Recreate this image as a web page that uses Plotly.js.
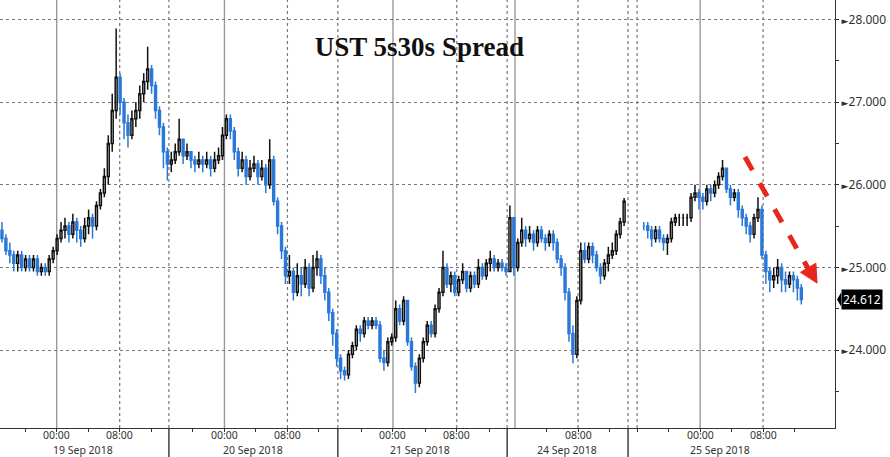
<!DOCTYPE html>
<html><head><meta charset="utf-8">
<script src="https://cdn.plot.ly/plotly-3.0.1.min.js"></script>
<style>html,body{margin:0;padding:0;background:#fff}#chart{width:890px;height:457px}</style>
</head><body><div id="chart"></div>
<script>
// x unit = one 30-minute bar slot on the (gap-compressed) intraday axis
const sessionNames = ["19 Sep 2018", "20 Sep 2018", "21 Sep 2018", "24 Sep 2018", "25 Sep 2018"];
const sessionStartSlot = [0, 43, 86, 129, 163];
const sessionFirstOpen = [25.45, 26.25, 23.9, 24.95, 25.5];

const sep19Close = [25.35,25.2,25.15,25.05,25.15,25.0,25.1,25.0,25.1,24.95,25.0,24.95,25.1,25.2,25.35,25.45,25.5,25.4,25.55,25.45,25.35,25.5,25.6,25.5,25.75,25.9,26.1,26.5,26.9,27.3,27.0,26.75,26.6,26.8,26.9,27.1,27.25,27.4,27.2,26.9,26.7,26.4,26.25];
const sep19High  = [25.55,25.4,25.3,25.2,25.2,25.2,25.15,25.15,25.15,25.15,25.05,25.05,25.15,25.25,25.4,25.55,25.6,25.55,25.65,25.6,25.5,25.6,25.7,25.65,25.8,25.95,26.2,26.6,27.1,27.89,27.35,27.05,26.85,26.9,27.0,27.2,27.35,27.67,27.45,27.25,26.95,26.75,26.45];
const sep19Low   = [25.3,25.15,25.05,24.95,24.95,24.95,24.95,24.95,24.95,24.9,24.9,24.9,24.9,25.05,25.15,25.3,25.35,25.3,25.35,25.3,25.25,25.3,25.4,25.35,25.45,25.7,25.85,26.0,26.4,26.8,26.85,26.55,26.45,26.55,26.7,26.8,27.0,27.15,27.1,26.8,26.6,26.2,26.05];

const sep20Close = [26.3,26.4,26.55,26.35,26.4,26.3,26.25,26.3,26.25,26.3,26.2,26.3,26.35,26.6,26.8,26.65,26.4,26.2,26.3,26.1,26.2,26.25,26.1,26.2,26.0,26.3,25.8,25.5,25.2,24.9,24.95,24.7,24.9,24.8,25.0,24.75,25.0,25.1,24.9,24.7,24.45,24.2,23.9];
const sep20High  = [26.4,26.5,26.8,26.55,26.5,26.4,26.35,26.4,26.35,26.4,26.35,26.4,26.45,26.7,26.85,26.85,26.7,26.45,26.4,26.35,26.3,26.35,26.3,26.3,26.25,26.55,26.35,25.85,25.55,25.25,25.15,25.0,25.05,25.0,25.1,25.05,25.15,25.2,25.15,25.0,24.75,24.5,24.25];
const sep20Low   = [26.15,26.25,26.35,26.25,26.3,26.2,26.15,26.2,26.15,26.2,26.1,26.15,26.25,26.3,26.55,26.55,26.3,26.1,26.15,26.0,26.05,26.15,26.0,26.05,25.9,25.95,25.75,25.4,25.1,24.8,24.8,24.6,24.65,24.65,24.75,24.65,24.7,24.9,24.8,24.6,24.35,24.05,23.8];

const sep21Close = [23.75,23.7,23.95,24.05,24.25,24.2,24.35,24.3,24.35,24.3,23.9,23.85,24.1,24.15,24.5,24.35,24.6,24.1,23.8,23.6,23.9,24.1,24.3,24.2,24.5,24.7,25.0,24.8,24.9,24.7,24.85,24.95,24.75,24.9,24.8,25.0,24.9,25.05,25.1,25.0,25.05,25.0,24.95];
const sep21High  = [23.95,23.8,24.0,24.1,24.3,24.3,24.4,24.4,24.4,24.4,24.35,24.0,24.15,24.2,24.6,24.55,24.65,24.6,24.15,23.85,23.95,24.15,24.35,24.35,24.55,24.75,25.2,25.05,24.95,24.95,24.9,25.05,24.95,24.95,24.95,25.1,25.05,25.1,25.2,25.15,25.1,25.1,25.05];
const sep21Low   = [23.65,23.63,23.65,23.9,24.0,24.1,24.15,24.25,24.25,24.25,23.85,23.75,23.8,24.05,24.1,24.3,24.3,24.05,23.75,23.48,23.55,23.85,24.05,24.15,24.15,24.45,24.65,24.75,24.7,24.65,24.65,24.8,24.7,24.7,24.75,24.75,24.85,24.85,24.95,24.95,24.95,24.95,24.9];

const sep24Close = [25.6,25.0,25.3,25.45,25.35,25.4,25.3,25.45,25.35,25.3,25.4,25.3,25.1,25.0,24.7,24.2,23.95,24.6,25.2,25.1,25.25,25.15,25.0,24.9,25.05,25.15,25.2,25.4,25.55,25.8];
const sep24High  = [25.75,25.6,25.35,25.6,25.5,25.5,25.45,25.5,25.5,25.4,25.45,25.45,25.35,25.15,25.05,24.75,24.3,24.65,25.3,25.3,25.3,25.3,25.2,25.05,25.1,25.25,25.3,25.45,25.6,25.84];
const sep24Low   = [24.95,24.9,24.95,25.25,25.25,25.3,25.2,25.25,25.3,25.2,25.25,25.2,25.05,24.9,24.6,24.1,23.84,23.9,24.55,25.05,25.05,25.05,24.95,24.8,24.85,24.95,25.1,25.15,25.35,25.5];

const sep25Close = [25.5,25.45,25.35,25.45,25.35,25.3,25.35,25.55,25.6,25.6,25.6,25.6,25.85,25.9,25.85,25.8,25.95,25.9,26.0,26.1,26.2,25.95,25.85,25.9,25.7,25.6,25.5,25.4,25.6,25.7,25.15,24.95,24.85,24.9,25.0,24.85,24.8,24.9,24.85,24.75,24.612];
const sep25High  = [25.55,25.55,25.5,25.5,25.5,25.4,25.4,25.6,25.65,25.65,25.65,25.65,25.9,26.0,25.95,25.9,26.0,26.0,26.05,26.15,26.3,26.2,26.0,25.95,25.95,25.75,25.65,25.55,25.65,25.85,25.75,25.2,25.0,25.0,25.1,25.05,24.95,24.95,24.95,24.9,24.8];
const sep25Low   = [25.45,25.35,25.25,25.3,25.3,25.2,25.15,25.3,25.5,25.5,25.5,25.5,25.55,25.8,25.7,25.7,25.75,25.8,25.85,25.95,26.05,25.9,25.75,25.8,25.6,25.5,25.4,25.3,25.35,25.55,25.1,24.8,24.7,24.75,24.8,24.7,24.7,24.75,24.7,24.6,24.55];

// axis furniture (slot units)
const midnightSlots = [14.4, 57, 99.8, 130.8, 177.8];
const eightSlots = [30.4, 73, 116, 146.8, 193.8];
const timeTickSlots = [14.4, 30.4, 57, 73, 99.8, 116, 146.8, 177.8, 193.8];
const timeTickText  = ["00:00","08:00","00:00","08:00","00:00","08:00","08:00","00:00","08:00"];
const minorTimeSlots = [6.4, 22.4, 38.4, 49, 65, 81, 91.8, 108, 124.2, 138.8, 154.8, 161.8, 169.8, 185.8, 201.8];
const sessionBreakSlots = [42.9, 85.8, 128.8, 159.5];
const extraDottedSlots = [161.8];
const dayLabelSlots = [21.1, 64.3, 106.7, 144, 182.9];
const yTickVals = [24, 25, 26, 27, 28];
const yMinorVals = [23.5, 24.5, 25.5, 26.5, 27.5];

const closes = [sep19Close, sep20Close, sep21Close, sep24Close, sep25Close];
const highs  = [sep19High, sep20High, sep21High, sep24High, sep25High];
const lows   = [sep19Low, sep20Low, sep21Low, sep24Low, sep25Low];

const X = [], O = [], H = [], L = [], C = [];
closes.forEach((cs, s) => {
  cs.forEach((c, i) => {
    X.push(sessionStartSlot[s] + i + 0.5);
    O.push(i === 0 ? sessionFirstOpen[s] : cs[i - 1]);
    H.push(highs[s][i]); L.push(lows[s][i]); C.push(c);
  });
});
const lastValue = C[C.length - 1];

const trace = {
  type: 'candlestick', x: X, open: O, high: H, low: L, close: C,
  increasing: {line: {color: '#111111', width: 1.5}, fillcolor: 'rgba(255,255,255,0)'},
  decreasing: {line: {color: '#2a78d8', width: 1.5}, fillcolor: '#2a78d8'},
  whiskerwidth: 0, hoverinfo: 'skip', showlegend: false
};

const shapes = [];
midnightSlots.forEach(v => shapes.push({type:'line', xref:'x', yref:'paper', x0:v, x1:v, y0:0, y1:1, layer:'below', line:{color:'#9a9a9a', width:1.4}}));
eightSlots.concat(sessionBreakSlots, extraDottedSlots).forEach(v => shapes.push({type:'line', xref:'x', yref:'paper', x0:v, x1:v, y0:0, y1:1, layer:'below', line:{color:'#777', width:1.2, dash:'dot'}}));
sessionBreakSlots.forEach(v => shapes.push({type:'line', xref:'x', yref:'paper', x0:v, x1:v, y0:-0.07, y1:0, layer:'above', line:{color:'#333', width:1.4}}));

// red dashed trend arrow (annotation)
const arrow = {x0: 189.2, y0: 26.335, x1: 205.2, y1: 24.99, tipX: 207.5, tipY: 24.81, c1x: 207.2, c1y: 25.05, c2x: 203.3, c2y: 24.94};
shapes.push({type:'line', xref:'x', yref:'y', x0:arrow.x0, y0:arrow.y0, x1:arrow.x1, y1:arrow.y1, layer:'above', line:{color:'#e8261c', width:5, dash:'dash'}});
shapes.push({type:'path', xref:'x', yref:'y', layer:'above', fillcolor:'#e8261c', line:{color:'#e8261c', width:1},
  path:`M ${arrow.tipX},${arrow.tipY} L ${arrow.c1x},${arrow.c1y} L ${arrow.c2x},${arrow.c2y} Z`});
// pointer of last-value tag
shapes.push({type:'path', xref:'paper', yref:'y', layer:'above', fillcolor:'#000', line:{color:'#000', width:0},
  path:`M 1.0024,${lastValue} L 1.0075,${lastValue + 0.088} L 1.0075,${lastValue - 0.088} Z`});

const labelFont = {family: 'Noto Sans, DejaVu Sans, sans-serif', size: 10.5, color: '#333'};
const annotations = sessionNames.map((n, i) => ({
  text: n, x: dayLabelSlots[i], xref: 'x', y: -0.0515, yref: 'paper', yanchor: 'middle',
  showarrow: false, font: labelFont, borderpad: 0, borderwidth: 0
}));
timeTickSlots.forEach((v, i) => annotations.push({
  text: timeTickText[i], x: v, xref: 'x', y: -0.0175, yref: 'paper', yanchor: 'middle',
  showarrow: false, font: labelFont, borderpad: 0, borderwidth: 0
}));
annotations.push({text: lastValue.toFixed(3), x: 1, xref: 'paper', xanchor: 'left', xshift: 6, y: lastValue, yref: 'y', yanchor: 'middle',
  showarrow: false, bgcolor: '#000', borderpad: 1, font: {family: 'Noto Sans, DejaVu Sans, sans-serif', size: 12, color: '#fff'}});

const layout = {
  width: 890, height: 457,
  margin: {l: 0, r: 55, t: 0, b: 29, pad: 0},
  paper_bgcolor: '#fff', plot_bgcolor: '#fff',
  title: {text: '<b>UST 5s30s Spread</b>', font: {family: 'Liberation Serif, Times New Roman, serif', size: 27, color: '#111'},
          x: 447/890, xanchor: 'center', xref: 'paper', y: 1 - 47/457, yanchor: 'middle', yref: 'container'},
  xaxis: {range: [0, 212.06], showgrid: false, zeroline: false, showline: true, linecolor: '#333', linewidth: 1.2,
          tickmode: 'array', tickvals: timeTickSlots, showticklabels: false, ticks: 'outside', ticklen: 3, tickcolor: '#333',
          minor: {tickmode: 'array', tickvals: minorTimeSlots, ticks: 'outside', ticklen: 3, tickcolor: '#333', showgrid: false},
          rangeslider: {visible: false}, fixedrange: true},
  yaxis: {side: 'right', range: [23.056, 28.236], zeroline: false, showline: true, linecolor: '#333', linewidth: 1.2,
          tickmode: 'array', tickvals: yTickVals,
          ticktext: yTickVals.map(v => '<span style="font-size:9px">►</span>' + v.toFixed(3)),
          ticks: 'outside', ticklen: 3, tickcolor: '#333',
          showgrid: true, gridcolor: '#777', griddash: 'dot', gridwidth: 1,
          minor: {tickmode: 'array', tickvals: yMinorVals, ticks: 'outside', ticklen: 3, tickcolor: '#333', showgrid: false},
          tickfont: {family: 'Noto Sans, DejaVu Sans, sans-serif', size: 12, color: '#333'}, fixedrange: true},
  shapes: shapes, annotations: annotations, showlegend: false
};

Plotly.newPlot('chart', [trace], layout, {displayModeBar: false, staticPlot: true});
</script></body></html>
